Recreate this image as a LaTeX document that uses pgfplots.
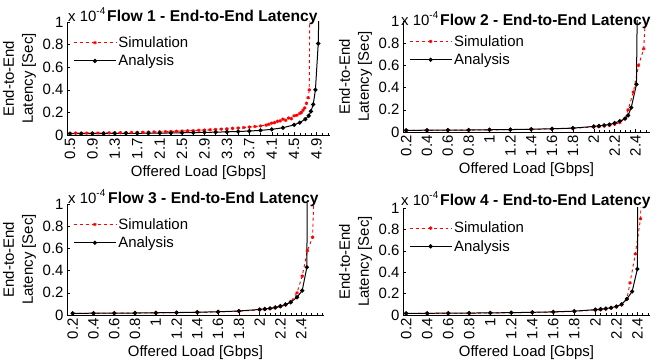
\documentclass[border=0pt]{standalone}
\usepackage{pgfplots}
\pgfplotsset{compat=1.18}
\usepackage{fontspec}
\setmainfont{Liberation Sans}
\begin{document}
\begin{tikzpicture}
\path[use as bounding box] (0bp,0bp) rectangle (651bp,361bp);
\pgfplotsset{
  flow/.style={
    scale only axis,
    axis x line*=bottom, axis y line*=left,
    axis line style={-, black, line width=0.6bp},
    ymin=0, ymax=1, ytick={0,0.2,0.4,0.6,0.8,1}, yticklabels={0,0.2,0.4,0.6,0.8,1},
    tick style={black, line width=0.4bp}, tick align=inside,
    major tick length=3bp, minor tick length=2bp,
    xticklabel style={rotate=90, anchor=east},
    tick label style={font=\fontsize{15}{15}\selectfont},
    label style={font=\fontsize{15}{19}\selectfont},
    xlabel={Offered Load [Gbps]},
    ylabel={End-to-End\\Latency [Sec]},
    ylabel style={align=center},
    /pgf/number format/assume math mode=true,
    legend style={draw=none, fill=none, font=\fontsize{15}{15}\selectfont,
      anchor=north west, at={(axis description cs:0.02,0.9)}, row sep=2bp, inner sep=1bp},
    legend cell align=left,
    legend image code/.code={\draw[mark repeat=2,mark phase=2,##1] plot coordinates {(0bp,0bp) (21bp,0bp) (42bp,0bp)};},
  },
  sim/.style={red, dashed, line width=0.9bp, mark=asterisk, mark size=1.7bp, mark options={solid}},
  ana/.style={black, line width=1bp, mark=*, mark size=1.6bp},
}
% ---------- Flow 1 ----------
\begin{axis}[flow, anchor=south west, at={(67bp,226bp)}, width=263bp, height=113bp, xmin=0.447, xmax=5.14,
  xtick={0.5,0.9,1.3,1.7,2.1,2.5,2.9,3.3,3.7,4.1,4.5,4.9},
  xticklabels={0.5,0.9,1.3,1.7,2.1,2.5,2.9,3.3,3.7,4.1,4.5,4.9},
  minor xtick={0.7,1.1,1.5,1.9,2.3,2.7,3.1,3.5,3.9,4.2,4.3,4.4,4.6,4.7,4.8,5.0,5.1}]
\addplot[sim] coordinates {
(0.5,0.015)(0.6,0.016)(0.7,0.016)(0.8,0.017)(0.9,0.017)(1.0,0.018)(1.1,0.018)(1.2,0.019)
(1.3,0.020)(1.4,0.020)(1.5,0.021)(1.6,0.022)(1.7,0.023)(1.8,0.024)(1.9,0.026)(2.0,0.027)
(2.1,0.028)(2.2,0.030)(2.3,0.031)(2.4,0.033)(2.5,0.035)(2.6,0.037)(2.7,0.039)(2.8,0.041)
(2.9,0.044)(3.0,0.046)(3.1,0.049)(3.2,0.052)(3.3,0.055)(3.4,0.058)(3.5,0.062)(3.6,0.066)
(3.7,0.070)(3.8,0.075)(3.9,0.080)(4.0,0.088)(4.05,0.095)(4.1,0.105)(4.15,0.110)(4.2,0.120)
(4.25,0.125)(4.3,0.140)(4.35,0.130)(4.4,0.150)(4.45,0.145)(4.5,0.170)(4.55,0.175)(4.6,0.190)
(4.63,0.200)(4.66,0.220)(4.69,0.240)(4.72,0.280)(4.75,0.330)(4.77,0.400)(4.78,1.300)};
\addlegendentry{Simulation}
\addplot[ana] coordinates {
(0.5,0.012)(0.7,0.012)(0.9,0.013)(1.1,0.013)(1.3,0.014)(1.5,0.015)(1.7,0.015)(1.9,0.016)
(2.1,0.017)(2.3,0.018)(2.5,0.020)(2.7,0.021)(2.9,0.023)(3.1,0.025)(3.3,0.028)(3.5,0.031)
(3.7,0.035)(3.9,0.041)(4.1,0.050)(4.3,0.064)(4.5,0.090)(4.6,0.110)(4.7,0.140)(4.76,0.170)
(4.80,0.210)(4.84,0.270)(4.88,0.400)(4.93,0.810)(4.95,1.300)};
\addlegendentry{Analysis}
\end{axis}
% ---------- Flow 2 ----------
\begin{axis}[flow, anchor=south west, at={(403bp,229bp)}, width=247bp, height=111bp, xmin=0.17, xmax=2.54,
  xtick={0.2,0.4,0.6,0.8,1,1.2,1.4,1.6,1.8,2,2.2,2.4},
  xticklabels={0.2,0.4,0.6,0.8,1,1.2,1.4,1.6,1.8,2,2.2,2.4},
  minor xtick={2.05,2.1,2.15,2.25,2.3,2.35,2.45,2.5}]
\addplot[sim] coordinates {
(0.2,0.014)(0.4,0.015)(0.6,0.016)(0.8,0.017)(1.0,0.019)(1.2,0.021)(1.4,0.024)(1.6,0.028)
(1.8,0.034)(2.0,0.044)(2.05,0.048)(2.1,0.054)(2.15,0.060)(2.2,0.070)(2.25,0.085)(2.3,0.120)
(2.33,0.200)(2.38,0.360)(2.43,0.600)(2.48,0.750)(2.51,1.300)};
\addlegendentry{Simulation}
\addplot[ana] coordinates {
(0.2,0.015)(0.4,0.016)(0.6,0.017)(0.8,0.018)(1.0,0.020)(1.2,0.022)(1.4,0.025)(1.6,0.029)
(1.8,0.035)(2.0,0.050)(2.05,0.055)(2.1,0.060)(2.15,0.068)(2.2,0.080)(2.25,0.098)(2.3,0.120)
(2.33,0.150)(2.36,0.220)(2.41,0.430)(2.42,1.300)};
\addlegendentry{Analysis}
\end{axis}
% ---------- Flow 3 ----------
\begin{axis}[flow, anchor=south west, at={(67bp,46bp)}, width=257bp, height=111bp, xmin=0.145, xmax=2.62,
  xtick={0.2,0.4,0.6,0.8,1,1.2,1.4,1.6,1.8,2,2.2,2.4},
  xticklabels={0.2,0.4,0.6,0.8,1,1.2,1.4,1.6,1.8,2,2.2,2.4},
  minor xtick={2.05,2.1,2.15,2.25,2.3,2.35,2.45,2.5,2.55,2.6}]
\addplot[sim] coordinates {
(0.2,0.014)(0.4,0.015)(0.6,0.016)(0.8,0.017)(1.0,0.019)(1.2,0.021)(1.4,0.024)(1.6,0.028)
(1.8,0.034)(2.0,0.046)(2.05,0.050)(2.1,0.056)(2.15,0.064)(2.2,0.075)(2.25,0.090)(2.3,0.120)
(2.36,0.200)(2.41,0.350)(2.46,0.580)(2.51,0.700)(2.53,1.300)};
\addlegendentry{Simulation}
\addplot[ana] coordinates {
(0.2,0.015)(0.4,0.016)(0.6,0.017)(0.8,0.018)(1.0,0.020)(1.2,0.022)(1.4,0.025)(1.6,0.029)
(1.8,0.036)(2.0,0.050)(2.05,0.055)(2.1,0.060)(2.15,0.068)(2.2,0.080)(2.25,0.095)(2.3,0.115)
(2.36,0.160)(2.41,0.220)(2.455,0.430)(2.46,1.300)};
\addlegendentry{Analysis}
\end{axis}
% ---------- Flow 4 ----------
\begin{axis}[flow, anchor=south west, at={(403bp,46bp)}, width=247bp, height=107bp, xmin=0.17, xmax=2.52,
  xtick={0.2,0.4,0.6,0.8,1,1.2,1.4,1.6,1.8,2,2.2,2.4},
  xticklabels={0.2,0.4,0.6,0.8,1,1.2,1.4,1.6,1.8,2,2.2,2.4},
  minor xtick={2.05,2.1,2.15,2.25,2.3,2.35,2.45,2.5}]
\addplot[sim] coordinates {
(0.2,0.014)(0.4,0.015)(0.6,0.016)(0.8,0.017)(1.0,0.019)(1.2,0.021)(1.4,0.024)(1.6,0.028)
(1.8,0.034)(2.0,0.046)(2.05,0.050)(2.1,0.056)(2.15,0.064)(2.2,0.075)(2.25,0.095)(2.3,0.150)
(2.33,0.300)(2.38,0.570)(2.43,0.900)(2.44,1.300)};
\addlegendentry{Simulation}
\addplot[ana] coordinates {
(0.2,0.015)(0.4,0.016)(0.6,0.017)(0.8,0.018)(1.0,0.020)(1.2,0.022)(1.4,0.025)(1.6,0.029)
(1.8,0.036)(2.0,0.050)(2.05,0.055)(2.1,0.060)(2.15,0.068)(2.2,0.080)(2.25,0.100)(2.3,0.150)
(2.35,0.220)(2.4,0.430)(2.405,1.300)};
\addlegendentry{Analysis}
\end{axis}
% ---------- titles ----------
\tikzset{mult/.style={anchor=base west, inner sep=0pt, font=\fontsize{15}{15}\selectfont},
         ttl/.style={anchor=base west, inner sep=0pt, font=\bfseries\fontsize{15.7}{15}\selectfont}}
\node[mult] at (68bp,339bp) {x 10\raisebox{0.5em}{\fontsize{10}{10}\selectfont -4}};
\node[ttl] at (107bp,339bp) {Flow 1 - End-to-End Latency};
\node[mult] at (401bp,335bp) {x 10\raisebox{0.5em}{\fontsize{10}{10}\selectfont -4}};
\node[ttl] at (440bp,335bp) {Flow 2 - End-to-End Latency};
\node[mult] at (68bp,157bp) {x 10\raisebox{0.5em}{\fontsize{10}{10}\selectfont -4}};
\node[ttl] at (108bp,157bp) {Flow 3 - End-to-End Latency};
\node[mult] at (401bp,155bp) {x 10\raisebox{0.5em}{\fontsize{10}{10}\selectfont -4}};
\node[ttl] at (440bp,155bp) {Flow 4 - End-to-End Latency};
\end{tikzpicture}
\end{document}
